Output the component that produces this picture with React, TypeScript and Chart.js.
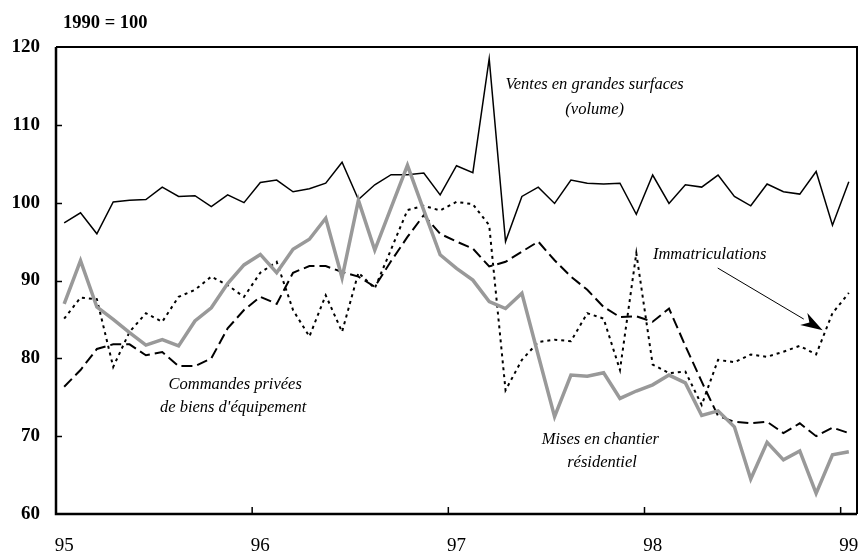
import { useEffect, useRef } from "react";
import { Chart, registerables } from "chart.js";

Chart.register(...registerables);

const yearLabels = ["95", "96", "97", "98", "99"];
const yTickValues = [60, 70, 80, 90, 100, 110, 120];
const unitLabel = "1990 = 100";

const ventes = [
  97.4, 98.7, 96.0, 100.1, 100.3, 100.4, 102.0, 100.8, 100.9, 99.5, 101.0, 100.0,
  102.6, 102.9, 101.4, 101.8, 102.5, 105.2, 100.4, 102.3, 103.6, 103.6, 103.8, 101.0,
  104.75, 103.85, 118.5, 95.0, 100.8, 102.0, 99.9, 102.9, 102.5, 102.4, 102.5, 98.5,
  103.55, 99.9, 102.3, 102.0, 103.55, 100.8, 99.6, 102.4, 101.4, 101.1, 104.0, 97.1,
  102.7,
];
const mises = [
  87.0, 92.55, 86.6, 85.0, 83.3, 81.7, 82.4, 81.6, 84.8, 86.5, 89.6, 92.0,
  93.35, 91.0, 94.0, 95.3, 98.0, 90.35, 100.3, 93.9, 99.35, 104.8, 99.0, 93.3,
  91.55, 90.05, 87.3, 86.4, 88.35, 80.4, 72.5, 77.85, 77.7, 78.15, 74.85, 75.8,
  76.6, 77.85, 76.85, 72.65, 73.25, 71.2, 64.5, 69.2, 66.95, 68.1, 62.65, 67.6,
  68.0,
];
const commandes = [
  76.35, 78.5, 81.2, 81.8, 81.8, 80.4, 80.8, 79.0, 79.0, 80.0, 83.85, 86.2,
  87.9, 87.0, 91.0, 91.85, 91.85, 91.1, 90.5, 89.2, 92.5, 95.6, 98.4, 96.0,
  95.0, 94.1, 91.8, 92.4, 93.7, 95.0, 92.6, 90.5, 88.8, 86.6, 85.3, 85.4,
  84.7, 86.4, 81.6, 77.0, 72.6, 71.85, 71.65, 71.85, 70.4, 71.65, 70.0, 71.1,
  70.4,
];
const immatriculations = [
  85.1, 87.8, 87.6, 78.9, 83.4, 85.8, 84.7, 87.9, 88.8, 90.5, 89.4, 87.9,
  91.0, 92.4, 86.2, 82.8, 88.1, 83.4, 91.0, 89.0, 94.0, 99.05, 99.6, 99.0,
  100.1, 99.8, 97.1, 75.9, 79.8, 82.1, 82.4, 82.2, 85.8, 85.1, 78.5, 93.5,
  79.2, 78.1, 78.3, 74.0, 79.8, 79.5, 80.5, 80.2, 80.85, 81.6, 80.5, 85.8,
  88.4,
];

// annotation texts with anchor positions in data units (month index, index value)
const annotationTexts = [
  "Ventes en grandes surfaces",
  "(volume)",
  "Immatriculations",
  "Commandes privées",
  "de biens d'équipement",
  "Mises en chantier",
  "résidentiel",
];
const annotationX = [32.95, 32.95, 39.99, 10.96, 10.84, 33.3, 33.4];
const annotationY = [115.1, 111.9, 93.3, 76.6, 73.6, 69.5, 66.55];
const arrowFrom = [40.48, 91.6];
const arrowTo = [46.9, 83.6];

const SERIF = "'Liberation Serif', 'Times New Roman', serif";

const toPoints = (arr: number[]) => arr.map((v, i) => ({ x: i + 0.5, y: v }));

export default function App() {
  const ref = useRef<HTMLCanvasElement | null>(null);

  useEffect(() => {
    document.body.style.margin = "0";
    const canvas = ref.current;
    if (!canvas) return;

    const overlay = {
      id: "overlay",
      afterDatasetsDraw(chart: any) {
        const { ctx, chartArea: a, scales } = chart;
        const xs = scales.x;
        const ys = scales.y;
        ctx.save();
        ctx.strokeStyle = "#000";
        ctx.fillStyle = "#000";
        // frame
        ctx.lineWidth = 2;
        ctx.beginPath();
        ctx.moveTo(a.left, a.top);
        ctx.lineTo(a.right, a.top);
        ctx.lineTo(a.right, a.bottom);
        ctx.stroke();
        ctx.lineWidth = 2.5;
        ctx.beginPath();
        ctx.moveTo(a.left, a.top);
        ctx.lineTo(a.left, a.bottom);
        ctx.lineTo(a.right, a.bottom);
        ctx.stroke();
        // inner tick marks
        ctx.lineWidth = 1.5;
        for (const v of yTickValues.slice(1, -1)) {
          const py = Math.round(ys.getPixelForValue(v)) + 0.5;
          ctx.beginPath();
          ctx.moveTo(a.left, py);
          ctx.lineTo(a.left + 6, py);
          ctx.stroke();
        }
        for (let k = 1; k < yearLabels.length; k++) {
          const px = xs.getPixelForValue(k * 12);
          ctx.beginPath();
          ctx.moveTo(px, a.bottom);
          ctx.lineTo(px, a.bottom - 7);
          ctx.stroke();
        }
        // unit label
        ctx.font = `bold 18.5px ${SERIF}`;
        ctx.textAlign = "left";
        ctx.textBaseline = "middle";
        ctx.fillText(unitLabel, a.left + 7, a.top - 24);
        // annotations
        ctx.font = `italic 16.5px ${SERIF}`;
        ctx.textAlign = "center";
        annotationTexts.forEach((t, i) => {
          ctx.fillText(t, xs.getPixelForValue(annotationX[i]), ys.getPixelForValue(annotationY[i]));
        });
        // arrow
        const x1 = xs.getPixelForValue(arrowFrom[0]);
        const y1 = ys.getPixelForValue(arrowFrom[1]);
        const x2 = xs.getPixelForValue(arrowTo[0]);
        const y2 = ys.getPixelForValue(arrowTo[1]);
        const ang = Math.atan2(y2 - y1, x2 - x1);
        const len = 22;
        const hw = 7;
        const bx = x2 - len * Math.cos(ang);
        const by = y2 - len * Math.sin(ang);
        ctx.lineWidth = 1;
        ctx.beginPath();
        ctx.moveTo(x1, y1);
        ctx.lineTo(bx, by);
        ctx.stroke();
        ctx.beginPath();
        ctx.moveTo(x2, y2);
        ctx.lineTo(bx - hw * Math.sin(ang), by + hw * Math.cos(ang));
        ctx.lineTo(x2 - 0.7 * len * Math.cos(ang), y2 - 0.7 * len * Math.sin(ang));
        ctx.lineTo(bx + hw * Math.sin(ang), by - hw * Math.cos(ang));
        ctx.closePath();
        ctx.fill();
        ctx.restore();
      },
    };

    const chart = new Chart(canvas, {
      type: "line",
      data: {
        datasets: [
          {
            label: "Mises en chantier résidentiel",
            data: toPoints(mises),
            borderColor: "#999999",
            borderWidth: 3.5,
            pointRadius: 0,
            tension: 0,
            borderJoinStyle: "miter",
          },
          {
            label: "Commandes privées de biens d'équipement",
            data: toPoints(commandes),
            borderColor: "#000000",
            borderWidth: 2,
            borderDash: [11, 5],
            pointRadius: 0,
            tension: 0,
          },
          {
            label: "Immatriculations",
            data: toPoints(immatriculations),
            borderColor: "#000000",
            borderWidth: 2,
            borderDash: [3, 4],
            pointRadius: 0,
            tension: 0,
          },
          {
            label: "Ventes en grandes surfaces (volume)",
            data: toPoints(ventes),
            borderColor: "#000000",
            borderWidth: 1.5,
            pointRadius: 0,
            tension: 0,
          },
        ],
      },
      options: {
        animation: false,
        responsive: false,
        maintainAspectRatio: false,
        layout: { padding: { left: 0, top: 47, right: 2, bottom: 0 } },
        plugins: { legend: { display: false }, tooltip: { enabled: false }, title: { display: false } },
        scales: {
          x: {
            type: "linear",
            min: 0,
            max: 49,
            border: { display: false },
            grid: { display: false, drawTicks: true, tickLength: 21 },
            afterBuildTicks: (scale: any) => {
              scale.ticks = yearLabels.map((_, k) => ({ value: k * 12 + 0.5 }));
            },
            afterFit: (scale: any) => {
              scale.height = 40;
            },
            ticks: {
              padding: 0,
              maxRotation: 0,
              autoSkip: false,
              color: "#000",
              font: { family: SERIF, size: 19 },
              callback: (v: any) => yearLabels[Math.round((Number(v) - 0.5) / 12)],
            },
          },
          y: {
            min: 60,
            max: 120,
            border: { display: false },
            grid: { display: false, drawTicks: true, tickLength: 16 },
            afterBuildTicks: (scale: any) => {
              scale.ticks = yTickValues.map((v) => ({ value: v }));
            },
            afterFit: (scale: any) => {
              scale.width = 56;
            },
            ticks: {
              padding: 0,
              color: "#000",
              font: { family: SERIF, size: 19, weight: "bold" },
            },
          },
        },
      },
      plugins: [overlay],
    } as any);

    return () => chart.destroy();
  }, []);

  return (
    <div style={{ position: "fixed", left: 0, top: 0, width: 859, height: 554 }}>
      <canvas ref={ref} width={859} height={554} style={{ display: "block", width: 859, height: 554 }} />
    </div>
  );
}
